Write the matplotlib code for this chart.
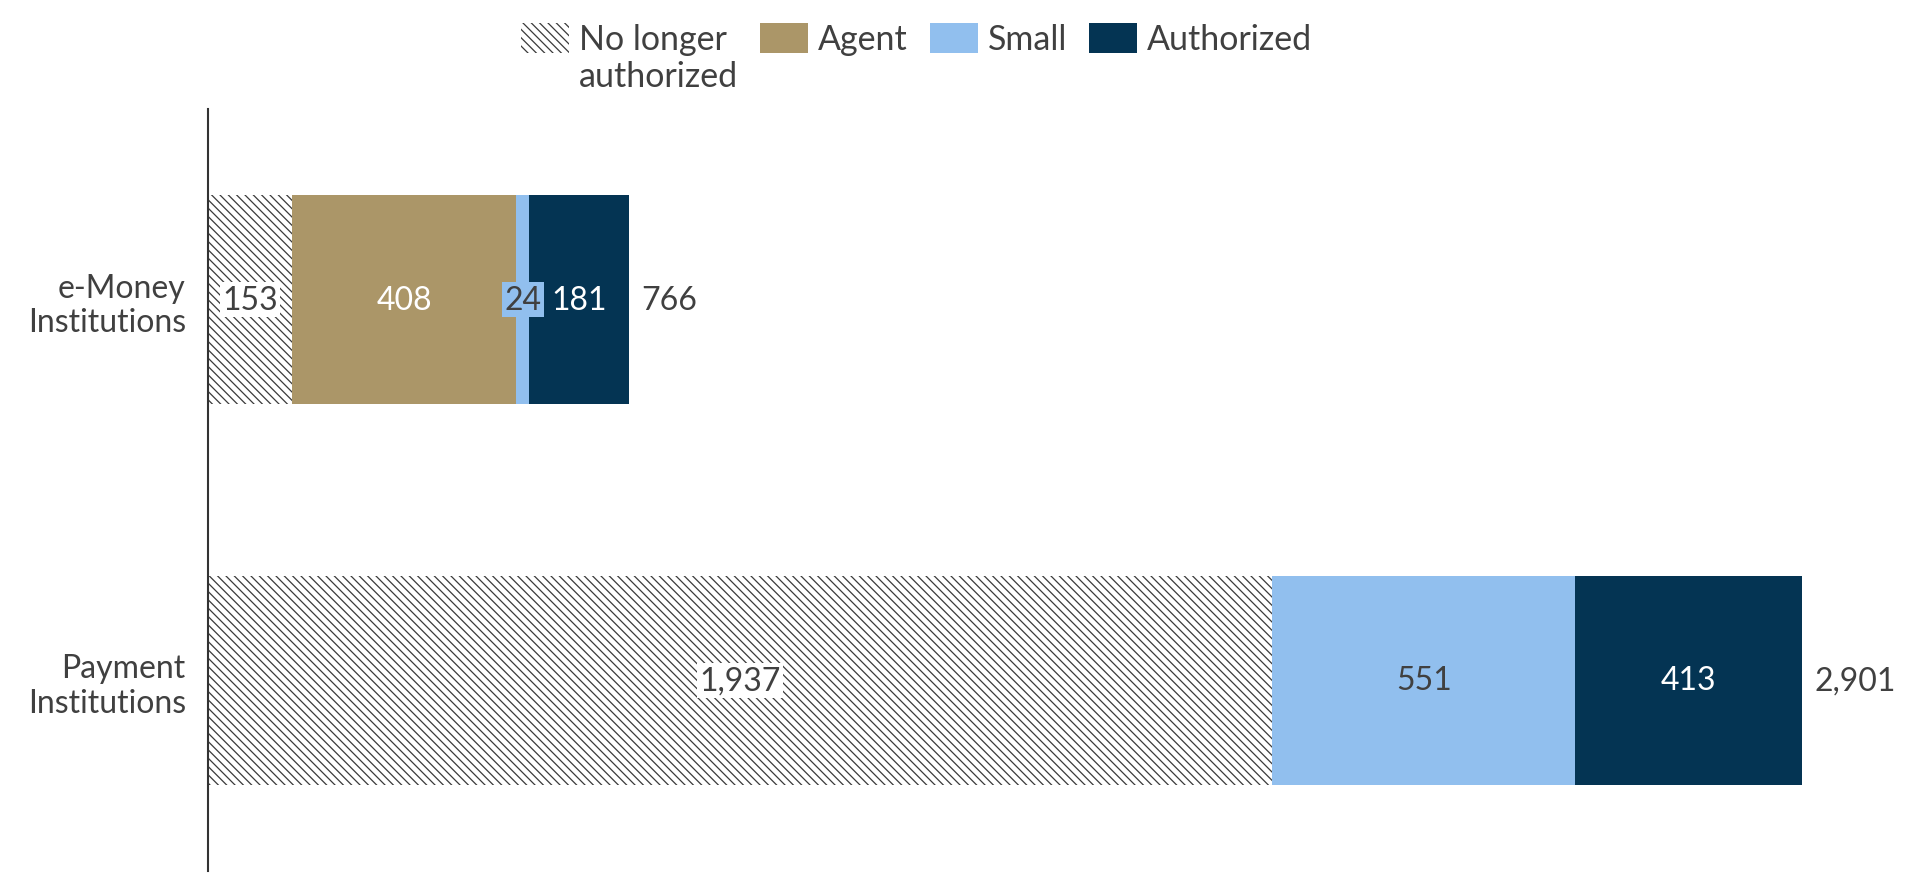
import numpy as np
import matplotlib
matplotlib.use("Agg")
from matplotlib import pyplot as plt

plt.rcParams['font.family'] = ['Lato', 'DejaVu Sans']
plt.rcParams['hatch.linewidth'] = 0.9
plt.rcParams['hatch.color'] = '#3a3a3a'

categories = ["e-Money\nInstitutions", "Payment\nInstitutions"]
series = ["No longer\nauthorized", "Agent", "Small", "Authorized"]
no_longer = [153, 1937]
agent = [408, 0]
small = [24, 551]
authorized = [181, 413]
totals = [766, 2901]

colors = ["white", "#ab9668", "#91bfee", "#043453"]
txt = "#404040"

fig = plt.figure(figsize=(19.2, 8.87), dpi=100)
ax = fig.add_axes([208 / 1920, 15 / 887, (1900 - 208) / 1920, (872 - 110) / 887])

y = np.arange(len(categories))
h = 0.55
left = np.zeros(len(categories))
for name, vals, col in zip(series, [no_longer, agent, small, authorized], colors):
    ax.barh(y, vals, h, left=left, color=col, label=name,
            hatch='\\\\\\\\' if col == "white" else None,
            edgecolor='#3a3a3a' if col == "white" else col, linewidth=0)
    for i, v in enumerate(vals):
        if v == 0:
            continue
        cx = left[i] + v / 2
        if col == "white":
            ax.text(cx, y[i], f"{v:,}", ha='center', va='center', fontsize=23, color=txt,
                    bbox=dict(boxstyle='square,pad=0.08', fc='white', ec='none'))
        elif col == "#91bfee":
            if v < 100:
                ax.text(cx, y[i], f"{v:,}", ha='center', va='center', fontsize=23, color=txt,
                        bbox=dict(boxstyle='square,pad=0.08', fc=col, ec='none'))
            else:
                ax.text(cx, y[i], f"{v:,}", ha='center', va='center', fontsize=23, color=txt)
        else:
            ax.text(cx, y[i], f"{v:,}", ha='center', va='center', fontsize=23, color='white')
    left += np.array(vals)

for i, t in enumerate(totals):
    ax.annotate(f"{t:,}", (t, y[i]), xytext=(9, 0), textcoords='offset points',
                ha='left', va='center', fontsize=23, color=txt)

ax.set_ylim(1.5, -0.5)
ax.set_xlim(0, (1900 - 208) / 0.5495)
ax.set_yticks(y)
ax.set_yticklabels(categories, fontsize=23, color=txt, ha='right')
ax.tick_params(axis='y', length=0, pad=16)
ax.set_xticks([])
for s in ['top', 'right', 'bottom']:
    ax.spines[s].set_visible(False)
ax.spines['left'].set_color('#333333')
ax.spines['left'].set_linewidth(1.5)

leg = fig.legend(loc='upper center', bbox_to_anchor=(0.4775, 1.0), ncol=4, frameon=False,
                 fontsize=24.5, handlelength=1.4, handleheight=1.0, handletextpad=0.3,
                 columnspacing=0.65, labelcolor=txt, borderaxespad=0.3)
# put the handles next to the first line of the wrapped label
leg._legend_handle_box.align = 'top'
for col_box in leg._legend_handle_box.get_children():
    col_box.align = 'top'
    for item in col_box.get_children():
        item.align = 'top'

fig.savefig("out.png", dpi=100)
